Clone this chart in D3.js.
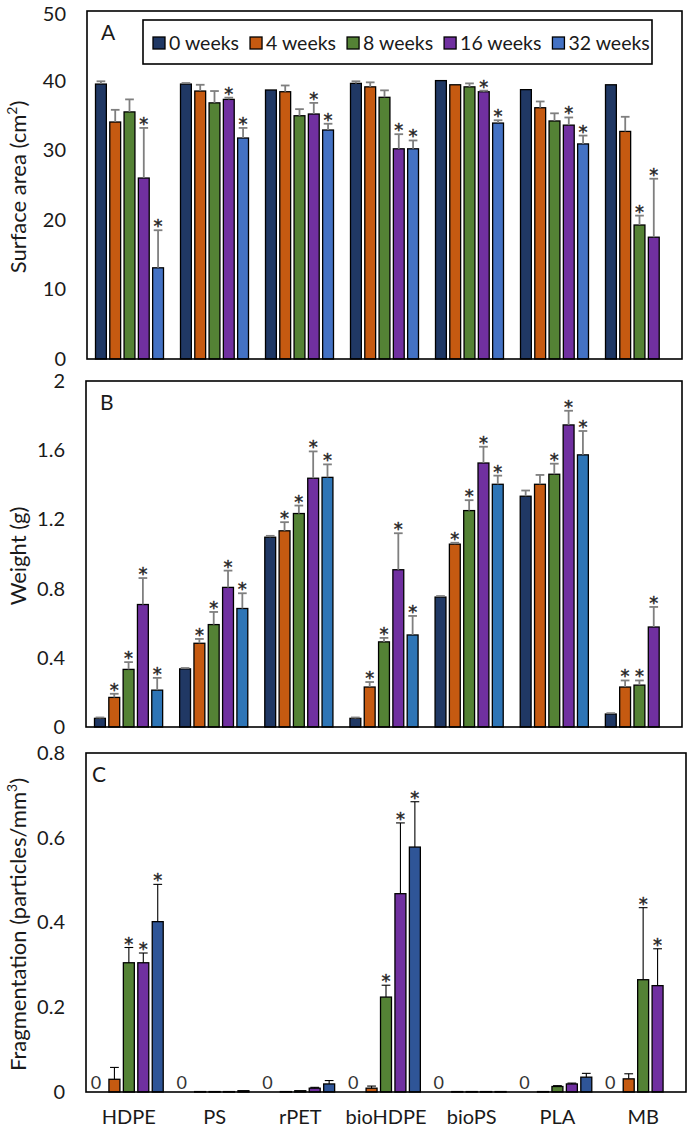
<!DOCTYPE html>
<html>
<head>
<meta charset="utf-8">
<script src="https://cdn.jsdelivr.net/npm/d3@7/dist/d3.min.js"></script>
<style>
  html, body { margin: 0; padding: 0; background: #fff; }
  svg { display: block; font-family: Lato, "Open Sans", sans-serif; }
</style>
</head>
<body>
<svg id="chart" width="689" height="1131"></svg>
<script>
// ---------- DATA ----------
const categories = ["HDPE", "PS", "rPET", "bioHDPE", "bioPS", "PLA", "MB"];
const seriesNames = ["0 weeks", "4 weeks", "8 weeks", "16 weeks", "32 weeks"];

// Panel A: surface area (cm2); rows = categories, cols = series
const areaMean = [
  [39.5, 34.05, 35.5, 26.0, 13.1],
  [39.5, 38.5, 36.8, 37.3, 31.75],
  [38.65, 38.4, 34.95, 35.2, 32.9],
  [39.6, 39.1, 37.6, 30.2, 30.2],
  [40.0, 39.4, 39.1, 38.4, 33.9],
  [38.7, 36.1, 34.2, 33.6, 30.9],
  [39.4, 32.7, 19.25, 17.5, null]
];
const areaErr = [
  [0.4, 1.75, 1.8, 7.2, 5.4],
  [0.15, 0.9, 1.7, 0.25, 1.45],
  [0.1, 0.9, 0.95, 1.6, 0.9],
  [0.3, 0.65, 1.0, 2.1, 1.2],
  [0.1, 0.1, 0.5, 0.15, 0.4],
  [0.1, 0.9, 1.1, 1.1, 1.2],
  [0.1, 2.1, 1.35, 8.4, null]
];
const areaSig = [
  [0, 0, 0, 1, 1],
  [0, 0, 0, 1, 1],
  [0, 0, 0, 1, 1],
  [0, 0, 0, 1, 1],
  [0, 0, 0, 1, 1],
  [0, 0, 0, 1, 1],
  [0, 0, 1, 1, 0]
];
const areaTicks = [0, 10, 20, 30, 40, 50];

// Panel B: weight (g)
const weightMean = [
  [0.05, 0.171, 0.333, 0.708, 0.213],
  [0.336, 0.484, 0.592, 0.807, 0.685],
  [1.097, 1.134, 1.234, 1.438, 1.443],
  [0.05, 0.231, 0.492, 0.909, 0.532],
  [0.751, 1.057, 1.251, 1.526, 1.403],
  [1.334, 1.403, 1.461, 1.746, 1.573],
  [0.075, 0.231, 0.242, 0.578, null]
];
const weightErr = [
  [0.005, 0.021, 0.042, 0.153, 0.071],
  [0.005, 0.025, 0.073, 0.097, 0.088],
  [0.008, 0.05, 0.046, 0.155, 0.075],
  [0.005, 0.029, 0.023, 0.211, 0.11],
  [0.006, 0.008, 0.06, 0.094, 0.05],
  [0.033, 0.054, 0.061, 0.082, 0.138],
  [0.005, 0.038, 0.027, 0.116, null]
];
const weightSig = [
  [0, 1, 1, 1, 1],
  [0, 1, 1, 1, 1],
  [0, 1, 1, 1, 1],
  [0, 1, 1, 1, 1],
  [0, 1, 1, 1, 1],
  [0, 0, 1, 1, 1],
  [0, 1, 1, 1, 0]
];
const weightTicks = [0, 0.4, 0.8, 1.2, 1.6, 2];

// Panel C: fragmentation (particles/mm3)
const fragMean = [
  [0, 0.030, 0.305, 0.305, 0.402],
  [0, 0.001, 0.001, 0.001, 0.003],
  [0, 0.001, 0.003, 0.009, 0.019],
  [0, 0.009, 0.224, 0.468, 0.578],
  [0, 0.001, 0.001, 0.001, 0.001],
  [0, 0.001, 0.013, 0.019, 0.035],
  [0, 0.031, 0.265, 0.251, null]
];
const fragErr = [
  [0, 0.028, 0.036, 0.023, 0.088],
  [0, 0, 0, 0, 0.001],
  [0, 0, 0.001, 0.002, 0.008],
  [0, 0.005, 0.028, 0.167, 0.107],
  [0, 0, 0, 0, 0],
  [0, 0, 0.002, 0.002, 0.009],
  [0, 0.012, 0.17, 0.087, null]
];
const fragSig = [
  [0, 0, 1, 1, 1],
  [0, 0, 0, 0, 0],
  [0, 0, 0, 0, 0],
  [0, 0, 1, 1, 1],
  [0, 0, 0, 0, 0],
  [0, 0, 0, 0, 0],
  [0, 0, 1, 1, 0]
];
const fragTicks = [0, 0.2, 0.4, 0.6, 0.8];

// ---------- STYLE / LAYOUT ----------
const baseColors = ["#203864", "#C55A11", "#548235", "#7030A0"];
const panels = [
  { letter: "A", mean: areaMean, err: areaErr, sig: areaSig, ticks: areaTicks, max: 50,
    left: 87, right: 682, top: 11, bottom: 359, c32: "#4472C4", errColor: "#7f7f7f", errW: 1.8,
    title: ["Surface area (cm", "2", ")"], zeros: false },
  { letter: "B", mean: weightMean, err: weightErr, sig: weightSig, ticks: weightTicks, max: 2,
    left: 86, right: 682, top: 381, bottom: 727, c32: "#2E75B6", errColor: "#7f7f7f", errW: 1.8,
    title: ["Weight (g)"], zeros: false },
  { letter: "C", mean: fragMean, err: fragErr, sig: fragSig, ticks: fragTicks, max: 0.8,
    left: 86, right: 686, top: 753, bottom: 1092, c32: "#2F5597", errColor: "#000", errW: 1.1,
    title: ["Fragmentation (particles/mm", "3", ")"], zeros: true }
];

const svg = d3.select("#chart");
const textColor = "#1a1a1a";

panels.forEach((p, pi) => {
  const g = svg.append("g");
  const x0 = d3.scaleBand().domain(categories).range([p.left, p.right]).paddingInner(0).paddingOuter(0);
  const x1 = d3.scaleBand().domain(seriesNames).range([8.5, x0.bandwidth() - 8.5]).paddingInner(0.24).paddingOuter(0);
  const y = d3.scaleLinear().domain([0, p.max]).range([p.bottom, p.top]);
  const colors = baseColors.concat([p.c32]);

  // y axis labels
  const yAxis = d3.axisLeft(y).tickValues(p.ticks).tickSize(0).tickPadding(21)
    .tickFormat(d => String(d));
  const ag = g.append("g").attr("transform", `translate(${p.left},0)`).call(yAxis);
  ag.select(".domain").remove();
  ag.selectAll("text").attr("font-size", 20).attr("fill", textColor)
    .style("font-family", "Lato, 'Open Sans', sans-serif")
    .attr("dy", d => (pi === 0 && d === p.max) ? "0.48em" : "0.32em");

  // bars
  const rows = [];
  categories.forEach((c, ci) => {
    seriesNames.forEach((s, si) => {
      rows.push({ c, s, si, v: p.mean[ci][si], e: p.err[ci][si], sig: p.sig[ci][si] });
    });
  });
  const valid = rows.filter(d => d.v !== null);

  const barG = g.append("g");
  barG.selectAll("rect").data(valid.filter(d => d.v > 0)).enter().append("rect")
    .attr("x", d => x0(d.c) + x1(d.s))
    .attr("y", d => y(d.v))
    .attr("width", x1.bandwidth())
    .attr("height", d => Math.max(0.5, y(0) - y(d.v)))
    .attr("fill", d => colors[d.si])
    .attr("stroke", "#000")
    .attr("stroke-width", 1.3);

  // error bars
  const eb = valid.filter(d => d.v > 0 && d.e > 0 && (y(d.v) - y(d.v + d.e)) > 0.8);
  const capW = x1.bandwidth() * 0.8;
  const eg = g.append("g").attr("stroke", p.errColor).attr("stroke-width", p.errW).attr("fill", "none");
  eg.selectAll("line.v").data(eb).enter().append("line").attr("class", "v")
    .attr("x1", d => x0(d.c) + x1(d.s) + x1.bandwidth() / 2)
    .attr("x2", d => x0(d.c) + x1(d.s) + x1.bandwidth() / 2)
    .attr("y1", d => y(d.v))
    .attr("y2", d => y(d.v + d.e));
  eg.selectAll("line.c").data(eb).enter().append("line").attr("class", "c")
    .attr("x1", d => x0(d.c) + x1(d.s) + x1.bandwidth() / 2 - capW / 2)
    .attr("x2", d => x0(d.c) + x1(d.s) + x1.bandwidth() / 2 + capW / 2)
    .attr("y1", d => y(d.v + d.e))
    .attr("y2", d => y(d.v + d.e));

  // significance stars
  g.append("g").selectAll("text").data(valid.filter(d => d.sig)).enter().append("text")
    .attr("x", d => x0(d.c) + x1(d.s) + x1.bandwidth() / 2)
    .attr("y", d => y(d.v + (d.e || 0)) + 2)
    .attr("text-anchor", "middle")
    .attr("font-size", 18)
    .style("font-family", "'DejaVu Sans', sans-serif")
    .attr("fill", "#262626")
    .attr("stroke", "#262626")
    .attr("stroke-width", 0.4)
    .text("*");

  // zero labels
  if (p.zeros) {
    g.append("g").selectAll("text").data(valid.filter(d => d.v === 0)).enter().append("text")
      .attr("x", d => x0(d.c) + x1(d.s) + x1.bandwidth() / 2 - 4)
      .attr("y", y(0) - 3)
      .attr("text-anchor", "middle")
      .attr("font-size", 18)
      .attr("fill", "#333")
      .text("0");
  }

  // frame
  g.append("rect")
    .attr("x", p.left).attr("y", p.top)
    .attr("width", p.right - p.left).attr("height", p.bottom - p.top)
    .attr("fill", "none").attr("stroke", "#000").attr("stroke-width", 1.6);

  // panel letter
  g.append("text")
    .attr("x", p.left + (p.letter === "C" ? 6 : 14))
    .attr("y", p.top + 29)
    .attr("font-size", 21)
    .attr("fill", textColor)
    .text(p.letter);

  // y title
  const tt = g.append("text")
    .attr("transform", `translate(26,${(p.top + p.bottom) / 2 + 2}) rotate(-90)`)
    .attr("text-anchor", "middle")
    .attr("font-size", 22)
    .attr("fill", textColor);
  tt.append("tspan").text(p.title[0]);
  if (p.title.length > 1) {
    tt.append("tspan").attr("dy", -9).attr("font-size", 14).text(p.title[1]);
    tt.append("tspan").attr("dy", 9).text(p.title[2]);
  }

  // x labels only on last panel
  if (pi === panels.length - 1) {
    const xAxis = d3.axisBottom(x0).tickSize(0).tickPadding(18);
    const xg = g.append("g").attr("transform", `translate(0,${p.bottom})`).call(xAxis);
    xg.select(".domain").remove();
    xg.selectAll("text").attr("font-size", 20).attr("fill", textColor)
      .style("font-family", "Lato, 'Open Sans', sans-serif");
  }

  // legend on first panel
  if (pi === 0) {
    const lg = g.append("g");
    lg.append("rect")
      .attr("x", 143).attr("y", 20).attr("width", 509).attr("height", 44)
      .attr("fill", "#fff").attr("stroke", "#000").attr("stroke-width", 1.6);
    let cx = 153;
    seriesNames.forEach((s, si) => {
      lg.append("rect").attr("x", cx).attr("y", 37).attr("width", 12).attr("height", 12)
        .attr("fill", si === 4 ? "#4472C4" : colors[si]).attr("stroke", "#000").attr("stroke-width", 1.3);
      const t = lg.append("text").attr("x", cx + 16).attr("y", 50)
        .attr("font-size", 19.5).attr("fill", textColor).text(s);
      cx = cx + 16 + t.node().getComputedTextLength() + 11;
    });
  }
});
</script>
</body>
</html>
